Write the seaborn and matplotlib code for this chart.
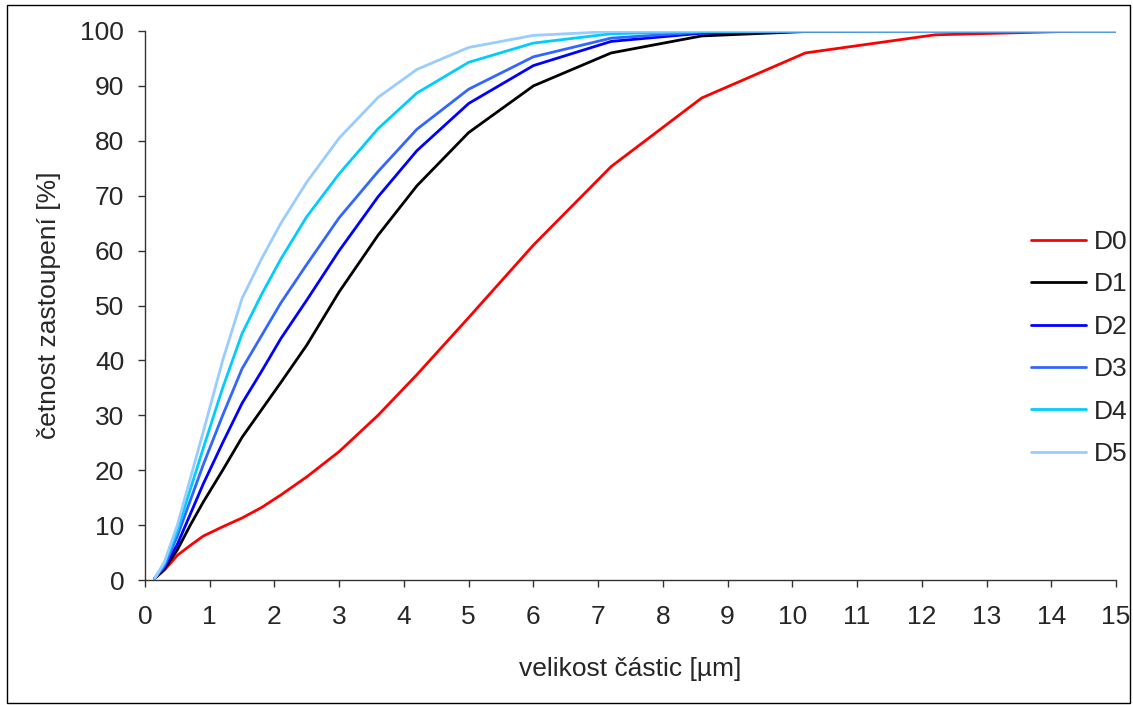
import numpy as np
import pandas as pd
import matplotlib
matplotlib.use("Agg")
import matplotlib.pyplot as plt
import seaborn as sns
from matplotlib.patches import Rectangle

# ---- data ----
size_um = [0.15, 0.3, 0.5, 0.7, 0.9, 1.2, 1.5, 1.8, 2.1, 2.5, 3.0, 3.6, 4.2,
           5.0, 6.0, 7.2, 8.6, 10.2, 12.2, 14.5, 15.0]
D0 = [0.3, 1.8, 4.5, 6.3, 8.0, 9.7, 11.3, 13.2, 15.5, 18.8, 23.4, 30.0, 37.4,
      47.8, 61.0, 75.3, 87.8, 96.0, 99.3, 100.0, 100.0]
D1 = [0.3, 2.0, 5.5, 10.0, 14.2, 20.0, 26.0, 31.0, 36.0, 42.8, 52.5, 62.8, 71.8,
      81.5, 90.0, 96.0, 99.1, 99.9, 100.0, 100.0, 100.0]
D2 = [0.3, 2.3, 6.5, 12.0, 17.5, 25.0, 32.2, 38.0, 44.0, 51.0, 60.0, 69.8, 78.2,
      86.8, 93.7, 98.1, 99.6, 100.0, 100.0, 100.0, 100.0]
D3 = [0.3, 2.6, 8.0, 14.5, 21.0, 30.0, 38.5, 44.5, 50.5, 57.5, 66.0, 74.4, 82.1,
      89.4, 95.3, 98.7, 99.8, 100.0, 100.0, 100.0, 100.0]
D4 = [0.3, 3.0, 9.0, 16.5, 24.0, 35.0, 44.9, 52.0, 58.5, 66.2, 74.0, 82.2, 88.7,
      94.3, 97.8, 99.5, 99.9, 100.0, 100.0, 100.0, 100.0]
D5 = [0.3, 3.3, 10.0, 18.5, 27.0, 40.0, 51.3, 58.5, 65.0, 72.5, 80.5, 87.9, 93.0,
      97.0, 99.2, 99.9, 100.0, 100.0, 100.0, 100.0, 100.0]
series_names = ["D0", "D1", "D2", "D3", "D4", "D5"]
series_values = [D0, D1, D2, D3, D4, D5]
x_ticks = list(range(0, 16))
y_ticks = list(range(0, 101, 10))

colors = ["#FF0000", "#000000", "#0000FF", "#3366FF", "#00CCFF", "#99CCFF"]

df = pd.concat(
    [pd.DataFrame({"x": size_um, "y": v, "s": n}) for n, v in zip(series_names, series_values)],
    ignore_index=True,
)

sns.set_style("white")
plt.rcParams["font.family"] = ["Liberation Sans", "DejaVu Sans"]

FS = 19

fig = plt.figure(figsize=(11.33, 7.05), dpi=100)
ax = fig.add_axes([145 / 1133, 1 - 580 / 705, (1116 - 145) / 1133, (580 - 31) / 705])

sns.lineplot(data=df, x="x", y="y", hue="s", palette=colors, linewidth=2.0,
             ax=ax, estimator=None, sort=False)

ax.set_xlim(0, 15)
ax.set_ylim(0, 100)
ax.set_xticks(x_ticks)
ax.set_yticks(y_ticks)
ax.tick_params(axis="both", direction="out", length=5, width=1, color="#333333",
               labelsize=FS, bottom=True, left=True)
ax.tick_params(axis="x", pad=13)
ax.tick_params(axis="y", pad=10)
for side in ["top", "right"]:
    ax.spines[side].set_visible(False)
for side in ["left", "bottom"]:
    ax.spines[side].set_color("#333333")
    ax.spines[side].set_linewidth(1)

ax.set_xlabel("velikost částic [µm]", fontsize=FS, labelpad=20)
ax.set_ylabel("četnost zastoupení [%]", fontsize=FS, labelpad=14)

leg = ax.legend(loc="center left", bbox_to_anchor=(1007 / 1133, 1 - 348 / 705),
                bbox_transform=fig.transFigure, frameon=False, fontsize=FS,
                handlelength=2.1, handletextpad=0.28, labelspacing=0.7)

fig.patches.append(Rectangle((7 / 1133, 2 / 705), 1 - 10 / 1133, 1 - 7 / 705,
                             transform=fig.transFigure, fill=False,
                             edgecolor="black", linewidth=1))

fig.savefig("out.png", dpi=100)
